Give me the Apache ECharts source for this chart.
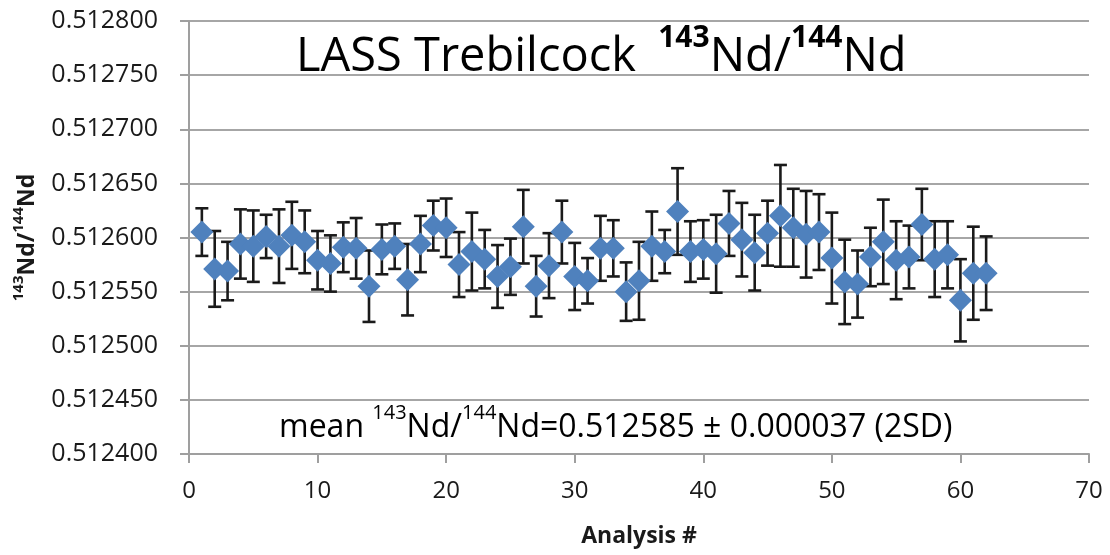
<!DOCTYPE html>
<html>
<head>
<meta charset="utf-8">
<script src="https://cdn.jsdelivr.net/npm/echarts@6/dist/echarts.min.js"></script>
<style>
html,body{margin:0;padding:0;background:#fff;}
#c{width:1110px;height:555px;}
</style>
</head>
<body>
<div id="c"></div>
<script>
// Analysis numbers
const analysis = [1,2,3,4,5,6,7,8,9,10,11,12,13,14,15,16,17,18,19,20,21,22,23,24,25,26,27,28,29,30,31,32,33,34,35,36,37,38,39,40,41,42,43,44,45,46,47,48,49,50,51,52,53,54,55,56,57,58,59,60,61,62];
// 143Nd/144Nd ratio
const ratio = [0.512605,0.512571,0.512569,0.512594,0.512592,0.512601,0.512592,0.512602,0.512596,0.512579,
0.512576,0.512591,0.512590,0.512555,0.512589,0.512592,0.512561,0.512594,0.512611,0.512609,
0.512575,0.512587,0.512580,0.512564,0.512573,0.512610,0.512555,0.512574,0.512605,0.512564,
0.512560,0.512590,0.512590,0.512550,0.512560,0.512592,0.512587,0.512624,0.512587,0.512589,
0.512585,0.512613,0.512598,0.512586,0.512604,0.512620,0.512609,0.512603,0.512605,0.512581,
0.512559,0.512557,0.512582,0.512596,0.512579,0.512582,0.512612,0.512580,0.512584,0.512542,
0.512567,0.512567];
// error (+/-)
const errs = [0.000022,0.000035,0.000027,0.000032,0.000033,0.000020,0.000034,0.000031,0.000029,0.000027,
0.000026,0.000023,0.000028,0.000033,0.000023,0.000021,0.000033,0.000026,0.000023,0.000027,
0.000030,0.000036,0.000027,0.000029,0.000026,0.000034,0.000028,0.000030,0.000029,0.000031,
0.000021,0.000030,0.000026,0.000027,0.000036,0.000032,0.000020,0.000040,0.000028,0.000027,
0.000036,0.000030,0.000034,0.000035,0.000030,0.000047,0.000036,0.000040,0.000035,0.000042,
0.000039,0.000031,0.000027,0.000039,0.000036,0.000029,0.000033,0.000035,0.000031,0.000038,
0.000043,0.000034];
// axis ticks
const yMin = 0.512400, yMax = 0.512800, yStep = 0.000050;
const xMin = 0, xMax = 70, xStep = 10;
const titleText = 'LASS Trebilcock';
const meanText = '=0.512585 \u00b1 0.000037 (2SD)';

const micro = v => Math.round(v * 1e6);
const ptData = analysis.map((n, i) => [n, micro(ratio[i])]);
const errData = analysis.map((n, i) => [n, micro(ratio[i]), micro(ratio[i] - errs[i]), micro(ratio[i] + errs[i])]);

const FONT = '"Open Sans", "Noto Sans", sans-serif';
const chart = echarts.init(document.getElementById('c'), null, {renderer: 'canvas'});
const option = {
  backgroundColor: '#ffffff',
  animation: false,
  grid: {left: 189, right: 21, top: 21, bottom: 101, containLabel: false},
  xAxis: {
    type: 'value', min: xMin, max: xMax, interval: xStep,
    axisLine: {show: true, lineStyle: {color: '#9f9f9f', width: 2}},
    axisTick: {show: true, length: 9, lineStyle: {color: '#9f9f9f', width: 2}},
    splitLine: {show: false},
    axisLabel: {fontFamily: FONT, fontSize: 24, color: '#1a1a1a', margin: 25},
    name: 'Analysis #', nameLocation: 'middle', nameGap: 71,
    nameTextStyle: {fontFamily: FONT, fontSize: 23, fontWeight: 'bold', color: '#1a1a1a'}
  },
  yAxis: {
    type: 'value', min: micro(yMin), max: micro(yMax), interval: micro(yStep),
    axisLine: {show: true, lineStyle: {color: '#9f9f9f', width: 2}},
    axisTick: {show: true, length: 9, lineStyle: {color: '#9f9f9f', width: 2}},
    splitLine: {show: true, lineStyle: {color: '#a6a6a6', width: 2}},
    axisLabel: {fontFamily: FONT, fontSize: 25, color: '#1a1a1a', margin: 31,
      formatter: v => (v / 1e6).toFixed(6)},
    name: '{sup|143}{b|Nd/}{sup|144}{b|Nd}', nameLocation: 'middle', nameGap: 150, nameRotate: 90,
    nameTextStyle: {
      fontFamily: FONT, color: '#1a1a1a',
      rich: {
        b: {fontFamily: FONT, fontSize: 23, fontWeight: 'bold', color: '#1a1a1a', lineHeight: 28, verticalAlign: 'bottom'},
        sup: {fontFamily: FONT, fontSize: 15, fontWeight: 'bold', color: '#1a1a1a', lineHeight: 28, verticalAlign: 'top'}
      }
    }
  },
  graphic: [
    {
      type: 'text', left: 296, top: 23, z: 10,
      style: {
        text: '{n|' + titleText + ' }{s1|143}{n|Nd/}{s|144}{n|Nd}',
        fontFamily: FONT,
        rich: {
          n: {fontFamily: FONT, fontSize: 47, color: '#000', lineHeight: 58, verticalAlign: 'bottom'},
          s1: {fontFamily: FONT, fontSize: 30, fontWeight: 'bold', color: '#000', lineHeight: 58, verticalAlign: 'top', padding: [0, 0, 0, 10]},
          s: {fontFamily: FONT, fontSize: 30, fontWeight: 'bold', color: '#000', lineHeight: 58, verticalAlign: 'top'}
        }
      }
    },
    {
      type: 'text', left: 279, top: 403, z: 10,
      style: {
        text: '{n|mean }{s|143}{n|Nd/}{s|144}{n|Nd' + meanText + '}',
        fontFamily: FONT,
        rich: {
          n: {fontFamily: FONT, fontSize: 32, color: '#262626', lineHeight: 41, verticalAlign: 'bottom'},
          s: {fontFamily: FONT, fontSize: 20, color: '#262626', lineHeight: 41, verticalAlign: 'top'}
        }
      }
    }
  ],
  series: [
    {
      type: 'custom', z: 2,
      data: errData,
      renderItem: function (params, api) {
        const x = api.value(0);
        const lo = api.coord([x, api.value(2)]);
        const hi = api.coord([x, api.value(3)]);
        const cw = 6.5;
        const st = {stroke: '#1a1a1a', lineWidth: 2.6};
        return {
          type: 'group',
          children: [
            {type: 'line', shape: {x1: lo[0], y1: lo[1], x2: hi[0], y2: hi[1]}, style: st},
            {type: 'line', shape: {x1: lo[0] - cw, y1: lo[1], x2: lo[0] + cw, y2: lo[1]}, style: st},
            {type: 'line', shape: {x1: hi[0] - cw, y1: hi[1], x2: hi[0] + cw, y2: hi[1]}, style: st}
          ]
        };
      },
      silent: true
    },
    {
      type: 'scatter', z: 5,
      data: ptData,
      symbol: 'diamond', symbolSize: [23, 23],
      itemStyle: {color: '#4f81bd', opacity: 1}
    }
  ]
};
chart.setOption(option);
</script>
</body>
</html>
